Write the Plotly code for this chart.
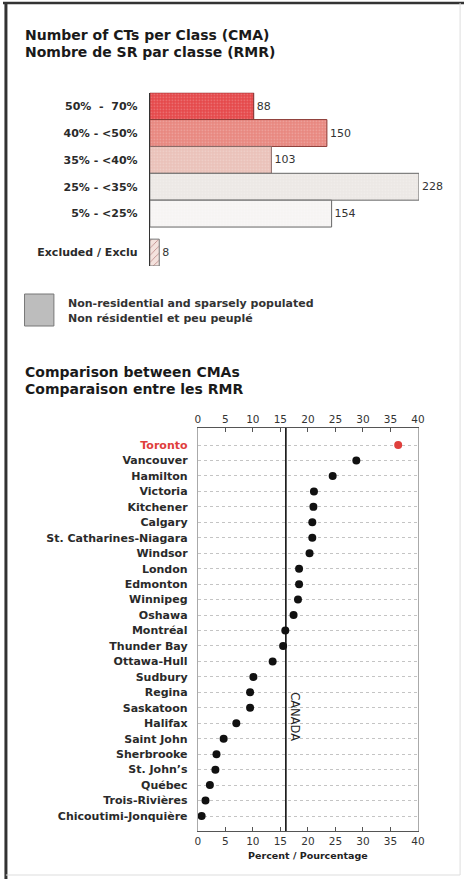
import plotly.graph_objects as go

# ---------------- data ----------------
classes = ["50%  -  70%", "40% - <50%", "35% - <40%", "25% - <35%", "5% - <25%", "Excluded / Exclu"]
counts = [88, 150, 103, 228, 154, 8]

cities = ["Toronto", "Vancouver", "Hamilton", "Victoria", "Kitchener", "Calgary",
          "St. Catharines-Niagara", "Windsor", "London", "Edmonton", "Winnipeg", "Oshawa",
          "Montréal", "Thunder Bay", "Ottawa-Hull", "Sudbury", "Regina", "Saskatoon",
          "Halifax", "Saint John", "Sherbrooke", "St. John’s", "Québec", "Trois-Rivières",
          "Chicoutimi-Jonquière"]
percent = [36.4, 28.8, 24.5, 21.1, 21.0, 20.8, 20.8, 20.3, 18.4, 18.4, 18.2, 17.4,
           15.9, 15.5, 13.6, 10.1, 9.5, 9.5, 7.0, 4.7, 3.4, 3.2, 2.2, 1.4, 0.7]
canada = 16.0
x_ticks = [0, 5, 10, 15, 20, 25, 30, 35, 40]

# ---------------- styling ----------------
W, H = 471, 879
FONT = "DejaVu Sans"
RED = "#df3f3c"


def px(x):
    return x / W


def py(y):
    return 1 - y / H


bar_fill = ["#e5484a", "#e8877f", "#eac1b9", "#ece8e5", "#f6f4f3", "#f4e2dd"]
bar_line = ["#7a2a2a", "#8a3a36", "#8a6a66", "#666666", "#666666", "#777777"]
bar_pos = [0, 1, 2, 3, 4, 5.45]

fig = go.Figure()

for i in range(len(classes)):
    shape = "/" if i == len(classes) - 1 else "."
    fig.add_trace(go.Bar(
        x=[counts[i]], y=[bar_pos[i]], orientation="h", width=1,
        marker=dict(color=bar_fill[i], line=dict(color=bar_line[i], width=1),
                    pattern=dict(shape=shape, fillmode="overlay",
                                 fgcolor="#ffffff" if i < 5 else "#b07272",
                                 fgopacity=0.3 if i < 5 else 0.9,
                                 size=3 if i < 5 else 5, solidity=0.25 if i < 5 else 0.15)),
        text=[str(counts[i])], textposition="outside", cliponaxis=False,
        textfont=dict(family=FONT, size=11, color="#333"),
        xaxis="x", yaxis="y", showlegend=False, hoverinfo="skip"))

# dot chart
dot_colors = [RED] + ["#111111"] * (len(cities) - 1)
fig.add_trace(go.Scatter(
    x=percent, y=list(range(len(cities))), mode="markers",
    marker=dict(size=8, color=dot_colors), xaxis="x2", yaxis="y2",
    showlegend=False, hoverinfo="skip"))
# dummy trace to render top axis
fig.add_trace(go.Scatter(x=[None], y=[None], xaxis="x3", yaxis="y2",
                         showlegend=False, hoverinfo="skip"))

city_text = [f"<span style='color:{RED}'>{c}</span>" if i == 0 else c for i, c in enumerate(cities)]

fig.update_layout(
    width=W, height=H, margin=dict(l=0, r=0, t=0, b=0),
    paper_bgcolor="white", plot_bgcolor="rgba(0,0,0,0)",
    font=dict(family=FONT, color="#222"),
    xaxis=dict(domain=[px(150), px(425)], range=[0, 228], visible=False, fixedrange=True),
    yaxis=dict(domain=[py(266), py(92.7)], range=[5.95, -0.5], anchor="x",
               tickvals=bar_pos, ticktext=classes, showgrid=False, zeroline=False,
               showline=True, linecolor="#333", linewidth=1,
               ticks="outside", ticklen=9, tickcolor="rgba(0,0,0,0)",
               tickfont=dict(family=FONT, size=11, color="#2a2a2a", weight="bold")),
    xaxis2=dict(domain=[px(199), px(424)], range=[0, 40], anchor="y2",
                tickvals=x_ticks, ticks="inside", ticklen=4, tickcolor="#555",
                showline=True, linecolor="#555", linewidth=1, showgrid=False, zeroline=False,
                tickfont=dict(family=FONT, size=10.5, color="#333"),
                title=dict(text="Percent / Pourcentage", standoff=6,
                           font=dict(family=FONT, size=9.5, color="#222", weight="bold"))),
    xaxis3=dict(overlaying="x2", side="top", range=[0, 40], anchor="y2",
                tickvals=x_ticks, ticks="inside", ticklen=4, tickcolor="#555",
                showline=True, linecolor="#555", linewidth=1, showgrid=False, zeroline=False,
                tickfont=dict(family=FONT, size=10.5, color="#333")),
    yaxis2=dict(domain=[py(831), py(428)], range=[24.97, -1.1], anchor="x2",
                tickvals=list(range(len(cities))), ticktext=city_text,
                showgrid=True, gridcolor="#c4c4c4", griddash="dot", gridwidth=1,
                zeroline=False, showline=True, mirror=True, linecolor="#aaa", linewidth=1,
                ticks="outside", ticklen=7, tickcolor="rgba(0,0,0,0)",
                tickfont=dict(family=FONT, size=11, color="#2a2a2a", weight="bold")),
)

# CANADA reference line
fig.add_shape(type="line", xref="x2", yref="y2 domain", x0=canada, x1=canada, y0=0, y1=1,
              line=dict(color="#111", width=1.6))
fig.add_annotation(x=canada, xref="x2", y=17.6, yref="y2", xshift=9, text="CANADA",
                   textangle=90, showarrow=False, font=dict(family=FONT, size=11.5, color="#222"))

# titles
for txt, yy in [("Number of CTs per Class (CMA)", 35), ("Nombre de SR par classe (RMR)", 52),
                ("Comparison between CMAs", 372), ("Comparaison entre les RMR", 389)]:
    fig.add_annotation(x=px(20), y=py(yy), xref="paper", yref="paper", xanchor="left",
                       yanchor="middle", text=txt, showarrow=False,
                       font=dict(family=FONT, size=14, color="#1a1a1a", weight="bold"))

# legend
fig.add_shape(type="rect", xref="paper", yref="paper", x0=px(22), x1=px(52), y0=py(326), y1=py(294),
              fillcolor="#bdbdbd", line=dict(color="#777", width=1))
for txt, yy in [("Non-residential and sparsely populated", 303), ("Non résidentiel et peu peuplé", 318)]:
    fig.add_annotation(x=px(64), y=py(yy), xref="paper", yref="paper", xanchor="left",
                       yanchor="middle", text=txt, showarrow=False,
                       font=dict(family=FONT, size=11, color="#333", weight="bold"))

# frame
fig.add_shape(type="line", xref="paper", yref="paper", x0=0, x1=1, y0=py(3), y1=py(3),
              line=dict(color="#333", width=2.5))
fig.add_shape(type="line", xref="paper", yref="paper", x0=px(3), x1=px(3), y0=0, y1=py(3),
              line=dict(color="#333", width=3))
fig.add_shape(type="line", xref="paper", yref="paper", x0=px(467), x1=px(467), y0=py(875), y1=py(3),
              line=dict(color="#ddd", width=1))
fig.add_shape(type="line", xref="paper", yref="paper", x0=px(3), x1=px(467), y0=py(875), y1=py(875),
              line=dict(color="#ddd", width=1))

fig.write_html("out.html", config={"displayModeBar": False},
               post_script="document.body.style.margin='0';document.body.style.overflow='hidden';")
